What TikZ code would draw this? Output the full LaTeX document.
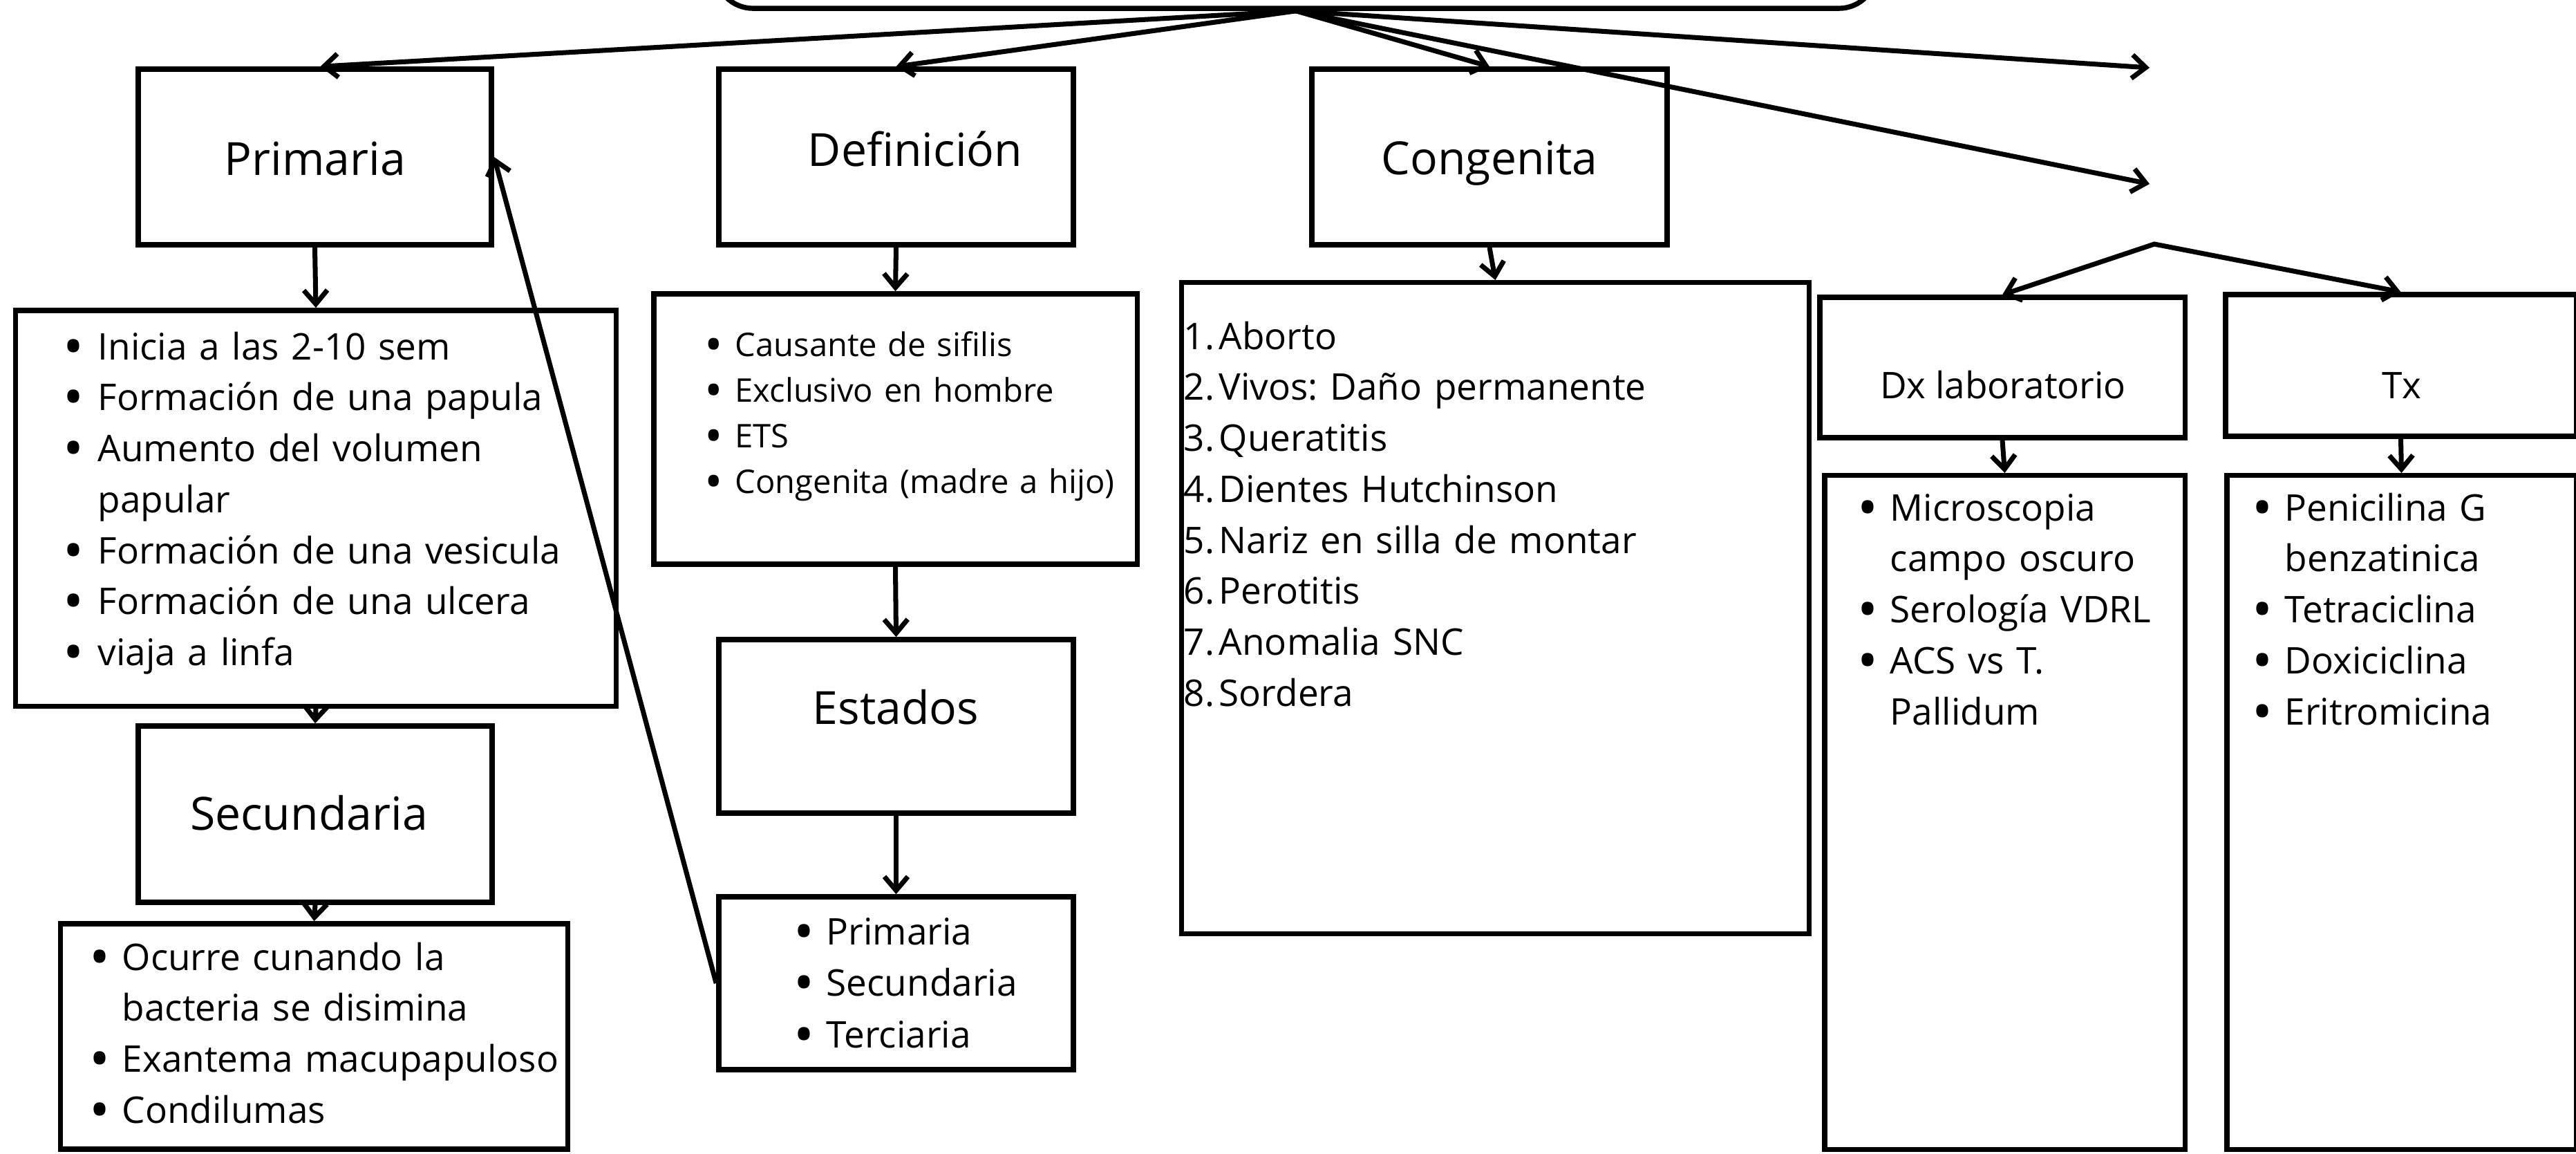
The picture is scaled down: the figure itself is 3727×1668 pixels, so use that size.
\documentclass[tikz,border=0pt]{standalone}
\usepackage{graphicx}
\usepackage{fontspec}
\setmainfont{Open Sans}
\usetikzlibrary{arrows.meta}
\frenchspacing
\newcommand{\blt}[1][0.47cm]{\leavevmode\llap{\makebox[#1][l]{\raisebox{-0.17em}{\scalebox{1.5}{•}}}}}
\newcommand{\nmb}[1]{\leavevmode\llap{\makebox[0.51cm][l]{#1.}}}
\begin{document}
\begin{tikzpicture}[x=0.01cm,y=-0.01cm,
  box/.style={draw, line width=2.1pt, inner sep=0pt, rectangle},
  conn/.style={line width=2pt, line join=miter, -{Straight Barb[length=0.2cm,width=0.34cm]}},
  title/.style={inner sep=0pt, anchor=base, font=\fontsize{18.8}{22}\selectfont},
  subtitle/.style={inner sep=0pt, anchor=base, font=\fontsize{15.1}{18}\selectfont},
  listtext/.style={inner sep=0pt, anchor=base west, text width=8cm, align=left, font=\fontsize{15.1}{20.97}\selectfont\frenchspacing},
  smalllist/.style={inner sep=0pt, anchor=base west, text width=8cm, align=left, font=\fontsize{13.4}{18.78}\selectfont\frenchspacing}
]
\useasboundingbox (0,0) rectangle (3727,1668);

% boxes
\node[box, rounded corners=0.55cm, minimum width=16.8cm, minimum height=3.12cm] (top) at (1875,-144) {};
\node[box, minimum width=5.11cm, minimum height=2.54cm] (prim) at (455.5,227) {};
\node[box, minimum width=5.13cm, minimum height=2.54cm] (def) at (1296.5,227) {};
\node[box, minimum width=5.14cm, minimum height=2.54cm] (cong) at (2155,227) {};
\node[box, minimum width=8.68cm, minimum height=5.72cm] (plist) at (457,735) {};
\node[box, minimum width=5.12cm, minimum height=2.55cm] (sec) at (456,1177.5) {};
\node[box, minimum width=7.33cm, minimum height=3.26cm] (slist) at (454.5,1499) {};
\node[box, minimum width=6.99cm, minimum height=3.91cm] (dlist) at (1295.5,620.5) {};
\node[box, minimum width=5.13cm, minimum height=2.51cm] (est) at (1296.5,1050.5) {};
\node[box, minimum width=5.13cm, minimum height=2.50cm] (elist) at (1296.5,1422) {};
\node[box, minimum width=9.07cm, minimum height=9.41cm] (clist) at (2163.5,879.5) {};
\node[box, minimum width=5.28cm, minimum height=2.03cm] (dx) at (2897,531.5) {};
\node[box, minimum width=5.07cm, minimum height=2.05cm] (tx) at (3473.5,528.5) {};
\node[box, minimum width=5.21cm, minimum height=9.74cm] (dxlist) at (2900.5,1175) {};
\node[box, minimum width=5.05cm, minimum height=9.74cm] (txlist) at (3474.5,1175) {};

% titles
\node[title] (tprim) at (456,253) {Primaria};
\node[title] (tdef) at (1324,240) {Definición};
\node[title] (tcong) at (2155,252) {Congenita};
\node[title] (tsec) at (447,1200) {Secundaria};
\node[title] (test) at (1296,1047) {Estados};
\node[subtitle] (tdx) at (2898,576) {Dx laboratorio};
\node[subtitle] (ttx) at (3475,576) {Tx};

% lists
\node[listtext] (plisttext) at (141,520) {\blt[0.5cm]Inicia a las 2-10 sem\\
\blt[0.5cm]Formación de una papula\\
\blt[0.5cm]Aumento del volumen\\
papular\\
\blt[0.5cm]Formación de una vesicula\\
\blt[0.5cm]Formación de una ulcera\\
\blt[0.5cm]viaja a linfa};

\node[listtext] (slisttext) at (176,1403) {\blt Ocurre cunando la\\
bacteria se disimina\\
\blt Exantema macupapuloso\\
\blt Condilumas};

\node[smalllist] (dlisttext) at (1063,515) {\blt[0.44cm]Causante de sifilis\\
\blt[0.44cm]Exclusivo en hombre\\
\blt[0.44cm]ETS\\
\blt[0.44cm]Congenita (madre a hijo)};

\node[listtext, font=\fontsize{15.1}{21.2}\selectfont] (elisttext) at (1195,1366) {\blt Primaria\\
\blt Secundaria\\
\blt Terciaria};

\node[listtext] (clisttext) at (1763,505) {\nmb{1}Aborto\\
\nmb{2}Vivos: Daño permanente\\
\nmb{3}Queratitis\\
\nmb{4}Dientes Hutchinson\\
\nmb{5}Nariz en silla de montar\\
\nmb{6}Perotitis\\
\nmb{7}Anomalia SNC\\
\nmb{8}Sordera};

\node[listtext] (dxlisttext) at (2734,753) {\blt Microscopia\\
campo oscuro\\
\blt Serología VDRL\\
\blt ACS vs T.\\
Pallidum};

\node[listtext] (txlisttext) at (3305,753) {\blt Penicilina G\\
benzatinica\\
\blt Tetraciclina\\
\blt Doxiciclina\\
\blt Eritromicina};

% free ends
\coordinate (e1) at (3110,98);
\coordinate (e2) at (3110,266);
\coordinate (peak) at (3117,353);

% fan connectors
\draw[conn] (top.south) -- ([xshift=0.08cm]prim.north);
\draw[conn] (top.south) -- (def.north);
\draw[conn] (top.south) -- (cong.north);
\draw[conn] (top.south) -- (e1);
\draw[conn] (top.south) -- (e2);
\draw[conn, {Straight Barb[length=0.2cm,width=0.34cm]}-{Straight Barb[length=0.2cm,width=0.34cm]}] (dx.north) -- (peak) -- (tx.north);

% vertical connectors
\draw[conn] (prim.south) -- (plist.north);
\draw[conn] (plist.south) -- (sec.north);
\draw[conn] (sec.south) -- (slist.north);
\draw[conn] (def.south) -- (dlist.north);
\draw[conn] (dlist.south) -- (est.north);
\draw[conn] (est.south) -- (elist.north);
\draw[conn] (cong.south) -- (clist.north);
\draw[conn] (dx.south) -- (dxlist.north);
\draw[conn] (tx.south) -- (txlist.north);
\draw[conn] (elist.west) -- (prim.east);
\end{tikzpicture}
\end{document}
